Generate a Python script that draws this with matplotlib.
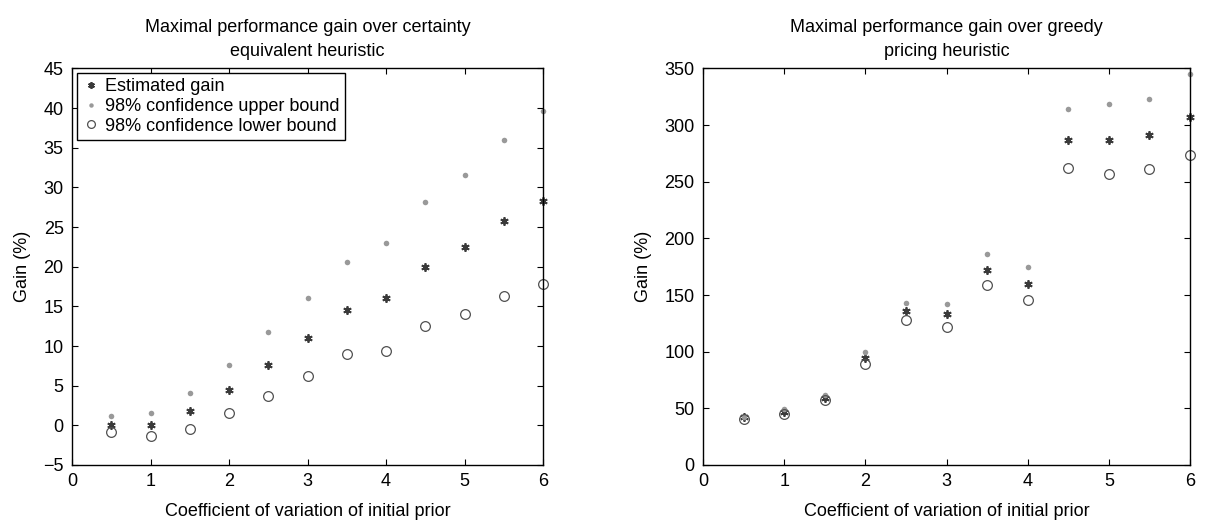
import numpy as np
import matplotlib
matplotlib.use('Agg')
import matplotlib.pyplot as plt

plt.rcParams['font.family'] = ['Liberation Sans', 'DejaVu Sans']
plt.rcParams['font.size'] = 13

cv = [0.5, 1.0, 1.5, 2.0, 2.5, 3.0, 3.5, 4.0, 4.5, 5.0, 5.5, 6.0]

# certainty equivalent heuristic
ce_est = [0, 0, 1.8, 4.5, 7.6, 11.0, 14.5, 16.0, 20.0, 22.5, 25.8, 28.3]
ce_up = [1.2, 1.5, 4.1, 7.6, 11.8, 16.0, 20.6, 23.0, 28.1, 31.6, 36.0, 39.6]
ce_lo = [-0.9, -1.4, -0.4, 1.5, 3.7, 6.2, 9.0, 9.4, 12.5, 14.1, 16.3, 17.8]

# greedy pricing heuristic
gr_est = [42, 47, 59, 94, 136, 133, 172, 160, 287, 287, 291, 307]
gr_up = [42, 49, 62, 100, 143, 142, 186, 175, 314, 319, 323, 345]
gr_lo = [41, 45, 57, 89, 128, 122, 159, 146, 262, 257, 261, 274]

fig = plt.figure(figsize=(12.25, 5.25), dpi=100)
ax1 = fig.add_axes([0.0588, 0.1143, 0.3845, 0.7553])
ax2 = fig.add_axes([0.5739, 0.1143, 0.3976, 0.7553])


def draw(ax, est, up, lo):
    ax.plot(cv, est, ls='none', marker=(6, 2, 0), ms=6, color='#3a3a3a',
            mew=1.3, label='Estimated gain', clip_on=False)
    ax.plot(cv, up, ls='none', marker='o', ms=4, color='#999999', mew=0,
            label='98% confidence upper bound', clip_on=False)
    ax.plot(cv, lo, ls='none', marker='o', ms=7, mfc='none', mec='#505050',
            mew=0.9, label='98% confidence lower bound', clip_on=False)
    ax.set_xlim(0, 6)
    ax.set_xticks(range(7))
    ax.tick_params(direction='in', top=True, right=True, length=4, pad=6,
                   labelsize=13)
    for s in ax.spines.values():
        s.set_linewidth(1.0)
    ax.set_xlabel('Coefficient of variation of initial prior', fontsize=13,
                  labelpad=9)
    ax.set_ylabel('Gain (%)', fontsize=13, labelpad=9)


draw(ax1, ce_est, ce_up, ce_lo)
ax1.set_ylim(-5, 45)
ax1.set_yticks(range(-5, 46, 5))
ax1.set_title('Maximal performance gain over certainty\nequivalent heuristic',
              fontsize=13, pad=9, linespacing=1.55)
leg = ax1.legend(loc='upper left', fancybox=False, edgecolor='black',
                 framealpha=1, handletextpad=0.3, borderpad=0.3,
                 labelspacing=0.15, fontsize=13, borderaxespad=0.25,
                 handlelength=1.0, markerscale=0.8)
leg.get_frame().set_linewidth(1.0)

draw(ax2, gr_est, gr_up, gr_lo)
ax2.set_ylim(0, 350)
ax2.set_yticks(range(0, 351, 50))
ax2.set_title('Maximal performance gain over greedy\npricing heuristic',
              fontsize=13, pad=9, linespacing=1.55)

fig.savefig('out.png', dpi=100)
